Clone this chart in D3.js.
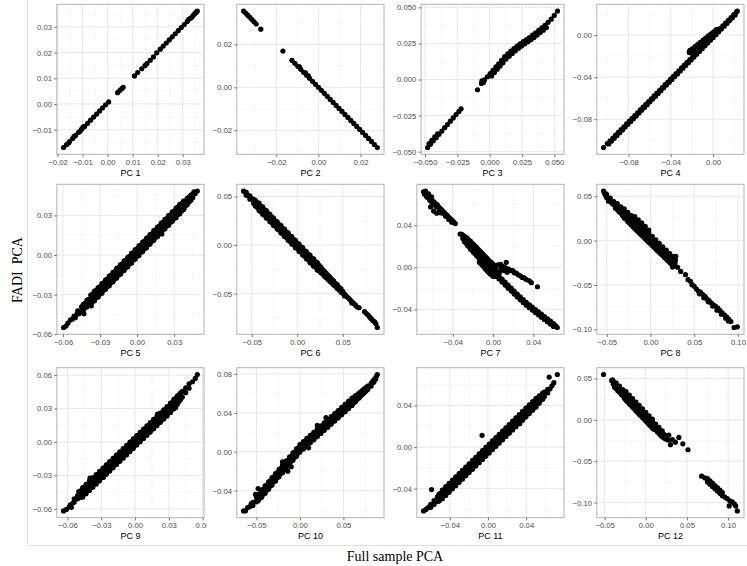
<!DOCTYPE html>
<html>
<head>
<meta charset="utf-8">
<script src="https://cdn.jsdelivr.net/npm/d3@7"></script>
<style>
  body { margin: 0; background: #fff; }
  svg { display: block; }
</style>
</head>
<body>
<div id="chart"></div>
<script>
// all scores below are stored x1000 (0.0123 -> 12.3), [full sample PCA, FADI PCA]
const pc1 = [[-17.6,-16.9],[-16.4,-15.8],[-15.2,-14.6],[-14.0,-13.4],[-12.8,-12.2],[-11.6,-11.0],[-10.4,-9.8],[-9.2,-8.7],[-8.0,-7.5],[-6.8,-6.3],[-5.6,-5.1],[-4.4,-3.9],[-3.2,-2.7],[-2.0,-1.5],[-0.8,-0.3],[0.4,0.8],
  [-15.6,-15.2],[-13.4,-12.6],[-11.0,-10.6],[-9.8,-9.0],
  [4.0,4.4],[4.8,5.2],[5.6,5.9],[6.2,6.5],
  [10.7,10.9],[12.0,12.2],[13.6,13.7],[14.9,14.9],[15.7,15.7],[17.0,17.0],[18.3,18.3],[19.6,19.9],
  [21.0,21.3],[22.2,22.5],[23.4,23.7],[24.6,24.9],[25.8,26.1],[27.0,27.3],[28.2,28.5],[29.4,29.7],[30.6,30.9],[31.8,32.1],[33.0,33.3],[34.2,34.5],[35.4,35.7],[35.8,36.1],
  [32.4,32.9],[33.6,33.7],[34.8,35.1]];

const pc2 = [[-35.6,35.5],[-34.6,34.6],[-33.6,33.6],[-32.6,32.6],[-31.6,31.6],[-30.6,30.5],[-29.6,29.5],
  [-27.4,27.1],[-16.9,16.9],
  [-12.6,12.6],[-11.2,11.2],[-9.8,9.8],[-8.4,8.4],[-7.0,7.0],[-5.6,5.6],[-4.2,4.2],[-2.8,2.8],[-1.4,1.4],[0,0],[1.4,-1.4],[2.8,-2.8],[4.2,-4.2],[5.6,-5.6],[7.0,-7.0],[8.4,-8.4],[9.8,-9.8],[11.2,-11.2],[12.6,-12.6],[14.0,-14.0],[15.4,-15.4],[16.8,-16.8],[18.2,-18.2],[19.6,-19.6],[21.0,-21.0],[22.4,-22.4],[23.8,-23.8],[25.2,-25.2],[26.6,-26.6],[28.0,-28.0],
  [-9.0,9.6],[-6.2,6.8],[-4.8,5.4]];

const pc3 = [[-48,-47.1],[-45.8,-44.8],[-43.6,-42.5],[-41.4,-40.3],[-39.2,-38.0],[-37,-35.7],[-34.8,-33.4],[-32.6,-31.2],[-30.4,-28.9],[-28.2,-26.6],[-26,-24.3],[-23.8,-22.1],[-22.1,-20.3],
  [-46.9,-44.4],[-44.7,-42.1],[-42.5,-39.8],[-40.3,-37.6],
  [-9.4,-7.1],
  [-6.3,-2.7],[-4,-0.3],[-1.8,1.9],[0.4,4.1],[2.6,6.4],[4.8,8.7],[7,10.9],[9.2,13.2],[11.6,15.8],[14,17.8],[16.4,19.7],[18.8,21.5],[21.2,23.2],[23.6,24.8],[26,26.3],[28.4,27.7],[30.8,29.1],[33.2,30.7],[35.6,32.4],[38,34.1],[40.4,35.8],[42.8,37.6],[45.2,39.6],[47.6,41.8],[50,44.4],[52.5,47.4],
  [1.5,2.5],[3.7,4.8],[5.9,7.1],[8.1,9.3],[10.3,11.6],[12.7,14.2],[15.1,16.2],[17.5,18.1],[19.9,19.9],[22.3,21.6],[24.7,23.2],[27.1,24.7],[29.5,26.1],[31.9,27.5],[34.3,29.1],[36.7,30.8],[39.1,32.5],[41.5,34.2],[43.9,36.0],
  [-5.4,-1.4],[-6.0,-1.0],[-4.8,-2.0]];

const pc4 = [[-103.6,-106.9],
  [-100,-103.2],[-97.4,-100.5],[-94.8,-97.9],[-92.2,-95.2],[-89.6,-92.5],[-87,-89.9],[-84.4,-87.2],[-81.8,-84.5],[-79.2,-81.9],[-76.6,-79.2],[-74,-76.6],[-71.4,-73.9],[-68.8,-71.2],[-66.2,-68.6],[-63.6,-65.9],[-61,-63.2],[-58.4,-60.6],[-55.8,-57.9],[-53.2,-55.2],[-50.6,-52.6],[-48,-49.9],[-45.4,-47.2],[-42.8,-44.6],[-40.2,-41.9],[-37.6,-39.2],[-35,-36.6],[-32.4,-33.9],[-29.8,-31.2],[-27.2,-28.6],[-24.6,-25.9],[-22,-23.3],[-19.4,-20.6],[-16.8,-17.9],[-14.2,-15.3],[-11.6,-12.6],[-9,-9.9],[-6.4,-7.3],[-3.8,-4.6],[-1.2,-1.9],[1.4,0.7],[4,3.4],[6.6,6.1],[9.2,8.7],[11.8,11.4],[14.4,14.1],[17,16.7],[19.6,19.4],[22.2,22.1],[22.9,22.8],
  [-98.7,-103.5],[-96.1,-100.8],[-93.5,-98.2],[-90.9,-95.5],[-88.3,-92.8],[-85.7,-90.2],[-83.1,-87.5],[-80.5,-84.8],[-77.9,-82.2],[-75.3,-79.5],[-72.7,-76.9],[-70.1,-74.2],[-67.5,-71.5],[-64.9,-68.9],[-62.3,-66.2],[-59.7,-63.5],[-57.1,-60.9],[-54.5,-58.2],[-51.9,-55.5],[-49.3,-52.9],[-46.7,-50.2],[-44.1,-47.5],[-41.5,-44.9],[-38.9,-42.2],[-36.3,-39.5],[-33.7,-36.9],[-31.1,-34.2],[-28.5,-31.5],[-25.9,-28.9],[-23.3,-26.2],[-20.7,-23.6],[-18.1,-20.9],[-15.5,-18.2],[-12.9,-15.6],[-10.3,-12.9],[-7.7,-10.2],[-5.1,-7.6],[-2.5,-4.9],[0.1,-2.2],[2.7,0.4],[5.3,3.1],[7.9,5.8],[10.5,8.4],[13.1,11.1],[15.7,13.8],[18.3,16.4],[20.9,19.1],
  [-22.5,-16.5],[-22,-14.5],[-20,-14.6],[-19.5,-12.8],[-17.5,-12.6],[-17,-10.8],[-15,-10.6],[-14.5,-8.8],[-12.5,-8.6],[-12,-6.8],[-10,-6.6],[-9.5,-4.8],[-7.5,-4.6],[-7,-2.8],[-5,-2.6],[-4.5,-0.8],[-2.5,-0.6],[-2,1.2],[0,1.4],[0.5,3.2],[2.5,3.4],[3,5.2],[5,5.5],
  [-20.5,-17],[-18,-15],[-15.5,-12.8],[-13,-10.8],[-10.5,-8.8],[-8,-6.8],[-5.5,-4.8]];

const pc5 = [[-59.5,-54.9],[-57.5,-53.8],[-56,-51.6],[-54,-49.3],[-52.5,-48.6],[-51,-46.2],[-50,-47.5],[-48.5,-44.6],[-48,-42.3],[-47,-44.5],
  [-45,-42.8],[-45,-39.2],[-42,-40.0],[-42,-36.4],[-39,-37.1],[-39,-33.5],
  [-36,-35.2],[-36,-32.4],[-36,-29.6],[-33,-32.4],[-33,-29.6],[-33,-26.8],[-30,-29.5],[-30,-26.7],[-30,-23.9],[-27,-26.7],[-27,-23.9],[-27,-21.1],
  [-24,-23.8],[-24,-21.0],[-24,-18.2],[-21,-20.9],[-21,-18.1],[-21,-15.3],[-18,-18.1],[-18,-15.3],[-18,-12.5],[-15,-15.2],[-15,-12.4],[-15,-9.6],
  [-12,-12.3],[-12,-9.5],[-12,-6.7],[-9,-9.5],[-9,-6.7],[-9,-3.9],[-6,-6.6],[-6,-3.8],[-6,-1.0],[-3,-3.8],[-3,-1.0],[-3,1.8],
  [0,-0.9],[0,1.9],[0,4.7],[3,2.0],[3,4.8],[3,7.6],[6,4.8],[6,7.6],[6,10.4],[9,7.7],[9,10.5],[9,13.3],
  [12,10.5],[12,13.3],[12,16.1],[15,13.4],[15,16.2],[15,19.0],[18,16.3],[18,19.1],[18,21.9],[21,19.1],[21,21.9],[21,24.7],
  [24,22.0],[24,24.8],[24,27.6],[27,24.9],[27,27.7],[27,30.5],[30,27.7],[30,30.5],[30,33.3],[33,30.6],[33,33.4],[33,36.2],[36,33.4],[36,36.2],[36,39.0],
  [39,37.3],[39,40.9],[42,40.2],[42,43.8],[45,43.4],[45,46.2],[47,46.4],[48.7,48.4],[46,47.8],
  [-43,-44.5],[-37,-38.5],[20,16],[38,35],
  [-43.5,-41.8],[-43.5,-37.4],[-40.5,-39.2],[-40.5,-34.2],[-37.5,-37.5],[-37.5,-30.3],[-34.5,-34.6],[-34.5,-27.4],[-31.5,-31.8],[-31.5,-24.6],
  [-28.5,-28.9],[-28.5,-21.7],[-25.5,-26.0],[-25.5,-18.8],[-22.5,-23.2],[-22.5,-16.0],[-19.5,-20.3],[-19.5,-13.1],[-16.5,-17.4],[-16.5,-10.2],
  [-13.5,-14.6],[-13.5,-7.4],[-10.5,-11.7],[-10.5,-4.5],[-7.5,-8.9],[-7.5,-1.7],[-4.5,-6.0],[-4.5,1.2],[-1.5,-3.1],[-1.5,4.1],
  [1.5,-0.3],[1.5,6.9],[4.5,2.6],[4.5,9.8],[7.5,5.5],[7.5,12.7],[10.5,8.3],[10.5,15.5],[13.5,11.2],[13.5,18.4],[16.5,14.0],[16.5,21.2],
  [19.5,16.9],[19.5,24.1],[22.5,19.8],[22.5,27.0],[25.5,22.6],[25.5,29.8],[28.5,25.5],[28.5,32.7],[31.5,28.3],[31.5,35.5],[34.5,31.2],[34.5,38.4],
  [37.5,34.5],[37.5,40.9],[40.5,38.0],[40.5,43.0],[43.5,41.4],[43.5,45.4]];

const pc6 = [[-59,55.5],[-57.5,54.5],[-56,51.2],[-56,54.2],[-52,47.2],[-52,50.6],[-48,43.0],[-48,47.0],
  [-44,38.8],[-44,41.2],[-44,43.6],[-40,34.6],[-40,37.4],[-40,40.2],[-36,30.8],[-36,33.6],[-36,36.4],[-32,27.0],[-32,29.8],[-32,32.6],
  [-28,23.1],[-28,25.9],[-28,28.7],[-24,19.3],[-24,22.1],[-24,24.9],[-20,15.5],[-20,18.3],[-20,21.1],[-16,11.7],[-16,14.5],[-16,17.3],
  [-12,7.9],[-12,10.7],[-12,13.5],[-8,4.0],[-8,6.8],[-8,9.6],[-4,0.2],[-4,3.0],[-4,5.8],[0,-3.6],[0,-0.8],[0,2.0],
  [4,-7.4],[4,-4.6],[4,-1.8],[8,-11.2],[8,-8.4],[8,-5.6],[12,-15.1],[12,-12.3],[12,-9.5],[16,-18.9],[16,-16.1],[16,-13.3],
  [20,-22.7],[20,-19.9],[20,-17.1],[24,-26.5],[24,-23.7],[24,-20.9],
  [28,-29.7],[28,-25.3],[32,-33.6],[32,-29.2],[36,-37.4],[36,-33.0],[40,-41.2],[40,-36.8],[44,-44.8],[44,-40.8],[48,-48.4],[48,-44.8],
  [52,-50.5],[52,-52.3],[56,-54.3],[60,-58.1],[60,-59.5],[64,-61.9],[66,-63.8],[68,-64.5],
  [74,-68.5],[76,-70.5],[78,-72],[79.6,-74],[81,-75.5],[83,-77.5],[85.1,-79.1],[86.5,-81],[88,-84.8],
  [-54,50.8],[-50,47.9],[-46,40.1],[-46,46.1],[-42,35.5],[-42,43.1],[-38,31.7],[-38,39.3],[-34,27.9],[-34,35.5],[-30,24.1],[-30,31.7],
  [-26,20.2],[-26,27.8],[-22,16.4],[-22,24.0],[-18,12.6],[-18,20.2],[-14,8.8],[-14,16.4],[-10,5.0],[-10,12.6],[-6,1.1],[-6,8.7],
  [-2,-2.7],[-2,4.9],[2,-6.5],[2,1.1],[6,-10.3],[6,-2.7],[10,-14.2],[10,-6.6],[14,-18.0],[14,-10.4],[18,-21.8],[18,-14.2],
  [22,-25.6],[22,-18.0],[26,-28.6],[26,-22.6],[30,-32.0],[30,-27.0],[34,-35.5],[34,-31.1],[38,-39.0],[38,-35.2],[42,-42.5],[42,-39.3],
  [46,-46.0],[46,-43.4],[50,-49.5],[50,-47.5],[54,-52.4],[58,-56.2],[62,-60.0]];

const pc7 = [[-69,71.9],[-67.5,71.2],[-66,69.0],[-66,67.4],[-64.5,68.3],[-63,66.1],[-63,64.3],[-61.5,65.4],[-60,63.3],[-60,61.5],[-58.5,62.0],[-57,60.4],[-57,58.6],[-55.5,59.6],[-54,57.5],[-52.5,55.8],[-51,54.6],[-49.5,53.0],[-48,51.7],[-46.5,50.1],[-45,48.9],[-43.5,47.2],[-42,46.0],[-40.5,44.6],[-39,43.1],[-37.5,41.7],
  [-59,53.5],[-56,51.5],[-62,57.5],[-52,52],
  [-68,69.5],[-65,66.5],[-62,63.2],[-59,60.5],[-56,57.6],[-53,54.5],[-50,51.5],[-47,48.6],[-44,45.6],[-41,43.0],[-67,72.5],[-64,70.0],[-61,67.0],
  [-32.7,31.7],[-31,31.5],[-30,27.5],[-30,30.5],[-27,23.5],[-27,26.0],[-27,28.5],[-24,19.8],[-24,22.9],[-24,25.8],[-21,16.3],[-21,19.9],[-21,23.0],
  [-18,12.9],[-18,16.9],[-18,20.5],[-15,9.8],[-15,13.9],[-15,17.5],[-12,3.5],[-12,6.5],[-12,10.8],[-12,14.5],[-9,0.5],[-9,3.5],[-9,7.8],[-9,11.5],
  [-6,-3.0],[-6,0.5],[-6,4.7],[-6,8.5],[-3,-6.0],[-3,-2.5],[-3,1.7],[-3,5.5],[0,-8.5],[0,-5.5],[0,-1.3],[0,3.0],[3,-8.5],[3,-4.3],[3,0],
  [-28.5,24.5],[-28.5,29.5],[-25.5,21.0],[-25.5,24.4],[-25.5,27.5],[-22.5,17.5],[-22.5,21.4],[-22.5,25.0],[-19.5,14.5],[-19.5,18.4],[-19.5,22.0],
  [-16.5,11.5],[-16.5,15.4],[-16.5,19.2],[-13.5,5.0],[-13.5,8.5],[-13.5,12.3],[-13.5,16.0],[-10.5,2.0],[-10.5,5.5],[-10.5,9.3],[-10.5,13.0],
  [-7.5,-1.5],[-7.5,2.5],[-7.5,6.3],[-7.5,10.0],[-4.5,-4.5],[-4.5,-0.5],[-4.5,3.2],[-4.5,7.0],[-1.5,-7.0],[-1.5,-3.5],[-1.5,0.2],[-1.5,4.5],
  [1.5,-8.5],[1.5,-5.0],[1.5,-1.5],[1.5,2.0],
  [6,-11.0],[6,-8.2],[9,-13.9],[9,-11.1],[12,-16.8],[12,-14.0],[15,-19.7],[15,-16.9],[18,-22.5],[18,-19.7],[21,-25.3],[21,-22.5],[24,-28.1],[24,-25.3],
  [27,-30.8],[27,-28.0],[30,-33.4],[30,-30.6],[33,-35.9],[33,-33.1],[36,-38.3],[36,-35.5],[39,-40.6],[39,-37.8],[42,-42.9],[42,-40.1],[45,-45.1],[45,-42.3],
  [48,-47.3],[48,-44.5],[51,-49.5],[51,-46.7],[54,-51.7],[54,-48.9],[57,-53.9],[57,-51.1],[60,-56.1],[60,-53.3],[63.8,-57.1],[62,-55.5],
  [7.5,-11.05],[10.5,-13.95],[13.5,-16.85],[16.5,-19.7],[19.5,-22.5],[22.5,-25.3],[25.5,-28.05],[28.5,-30.7],[31.5,-33.25],[34.5,-35.7],
  [37.5,-38.05],[40.5,-40.35],[43.5,-42.6],[46.5,-44.8],[49.5,-47.0],[52.5,-49.2],[55.5,-51.4],[58.5,-53.6],[61.5,-55.6],
  [5,2.5],[7.5,3],[9,1],[11,0.5],[13.1,4.8],[13,-1],[15.5,-1.5],[17,-3],[19.6,-3.1],[21,-5],[23,-5.5],[25,-7],[27,-8],[29,-9.5],[31,-10],[33,-11.5],[36,-12.7],[38,-14.5],[44.1,-18.4],[8,-1.5],[11,-3],[14,-4.5],[6.5,-4.5]];

const pc8 = [[-53.7,55.8],[-52.5,53.2],[-51,52.8],[-51,50.3],[-50,48.2],[-50,51.8],[-46,44.3],[-46,47.9],[-42,40.4],[-42,43.9],
  [-38,35.0],[-38,38.4],[-38,41.8],[-34,31.0],[-34,34.5],[-34,38.0],
  [-30,25.4],[-30,28.9],[-30,32.4],[-30,35.9],[-26,21.5],[-26,25.0],[-26,28.5],[-26,32.0],[-22,17.6],[-22,21.1],[-22,24.6],[-22,28.1],
  [-18,13.7],[-18,17.2],[-18,20.7],[-18,24.2],[-18,27.2],[-14,9.9],[-14,13.4],[-14,16.9],[-14,20.4],[-14,23.4],
  [-10,6.0],[-10,9.5],[-10,13.0],[-10,16.5],[-10,20.0],[-6,2.1],[-6,5.6],[-6,9.1],[-6,12.6],[-6,16.0],[-2,-1.8],[-2,1.7],[-2,5.2],[-2,8.7],[-2,12.0],
  [2,-5.6],[2,-2.1],[2,1.4],[2,4.9],[6,-9.5],[6,-6.0],[6,-2.5],[6,1.0],[10,-13.0],[10,-9.6],[10,-6.2],[10,-3.0],
  [14,-16.9],[14,-13.5],[14,-10.1],[14,-6.9],[18,-20.8],[18,-17.4],[18,-14.0],[18,-10.8],[22,-24.6],[22,-21.2],[22,-17.8],[22,-14.6],
  [26,-28],[26,-24.5],[26,-21],[26,-18],[28.9,-17.7],[28.5,-22],[28,-26],[25.2,-29.7],
  [27.1,-27],[31,-30],[34.5,-34.7],[40,-38.4],[43,-44],[45.6,-45.9],[47.5,-49.7],[50,-51.5],[52.5,-54.5],[54.9,-57.2],[57,-58],[59.5,-60.5],[62.3,-62.9],[64.5,-65.5],[67,-67.5],[69.7,-70.4],[72,-72.5],[74.5,-74],[77.1,-76.1],[79.5,-79],[82,-81.5],[84.5,-83.6],[87,-86],[89.5,-88.5],[91.9,-91.2],[95.6,-97.9],[99.3,-97.2],
  [56,-60],[61,-64.5],[66,-69],[71,-73.8],[76,-78.5],[81,-83],[86,-87.5],[89,-90.5],
  [-48,44.5],[-44,42.0],[-40,36.5],[-40,40.2],[-36,32.6],[-36,36.2],[-32,28.2],[-32,31.9],[-28,24.3],[-28,27.9],[-24,19.8],[-24,23.6],[-20,15.6],[-20,19.4],
  [-16,11.8],[-16,15.6],[-12,8.0],[-12,11.6],[-8,4.1],[-8,7.6],[-4,0.2],[-4,3.8],[0,-3.6],[0,0.1],[4,-7.5],[4,-4.0],[8,-11.5],[8,-8.0],
  [12,-15.2],[12,-11.6],[16,-19.0],[16,-15.4],[20,-22.8],[20,-19.2],[24,-26.4],[24,-22.6]];

const pc9 = [[-63.5,-61.8],[-61,-60.5],[-58.5,-58.3],[-56.5,-58.6],[-55,-54.5],[-57.5,-56.5],
  [-54,-53.9],[-54,-50.9],[-51,-51.0],[-51,-48.0],
  [-48,-49.6],[-48,-46.6],[-48,-43.6],[-45,-46.7],[-45,-43.7],[-45,-40.7],[-42,-43.7],[-42,-40.7],[-42,-37.7],[-39,-40.8],[-39,-37.8],[-39,-34.8],
  [-36,-37.9],[-36,-34.9],[-36,-31.9],[-33,-35.0],[-33,-32.0],[-33,-29.0],[-30,-32.1],[-30,-29.1],[-30,-26.1],[-27,-29.2],[-27,-26.2],[-27,-23.2],
  [-24,-26.3],[-24,-23.3],[-24,-20.3],[-21,-23.4],[-21,-20.4],[-21,-17.4],[-18,-20.5],[-18,-17.5],[-18,-14.5],[-15,-17.6],[-15,-14.6],[-15,-11.6],
  [-12,-14.6],[-12,-11.6],[-12,-8.6],[-9,-11.7],[-9,-8.7],[-9,-5.7],[-6,-8.8],[-6,-5.8],[-6,-2.8],[-3,-5.9],[-3,-2.9],[-3,0.1],
  [0,-3.0],[0,0],[0,3.0],[3,-0.1],[3,2.9],[3,5.9],[6,2.8],[6,5.8],[6,8.8],[9,5.7],[9,8.7],[9,11.7],
  [12,8.6],[12,11.6],[12,14.6],[15,11.6],[15,14.6],[15,17.6],[18,14.5],[18,17.5],[18,20.5],[21,17.4],[21,20.4],[21,23.4],
  [24,20.3],[24,23.3],[24,26.3],[27,23.2],[27,26.2],[27,29.2],[30,26.1],[30,29.1],[30,32.1],[33,29.4],[33,32.4],[33,35.4],
  [36,32.8],[36,35.8],[36,38.8],[39,36.3],[39,39.3],[39,42.3],[42,40.3],[42,45.3],[45,44.2],[45,48.6],[48,48.2],[48,52.2],[51,54.0],[53.5,57.0],[55.3,60.5],
  [-50,-44.5],[-40,-32.5],[-28,-31.5],[20,25],[36,31],
  [-46.5,-49.3],[-46.5,-40.9],[-43.5,-46.4],[-43.5,-38.0],[-40.5,-43.5],[-40.5,-35.1],[-37.5,-40.6],[-37.5,-32.2],[-34.5,-37.7],[-34.5,-29.3],
  [-31.5,-34.8],[-31.5,-26.4],[-28.5,-31.8],[-28.5,-23.4],[-25.5,-28.9],[-25.5,-20.5],[-22.5,-26.0],[-22.5,-17.6],[-19.5,-23.1],[-19.5,-14.7],
  [-16.5,-20.2],[-16.5,-11.8],[-13.5,-17.3],[-13.5,-8.9],[-10.5,-14.4],[-10.5,-6.0],[-7.5,-11.5],[-7.5,-3.1],[-4.5,-8.6],[-4.5,-0.2],
  [-1.5,-5.7],[-1.5,2.7],[1.5,-2.7],[1.5,5.7],[4.5,0.2],[4.5,8.6],[7.5,3.1],[7.5,11.5],[10.5,6.0],[10.5,14.4],[13.5,8.9],[13.5,17.3],
  [16.5,11.8],[16.5,20.2],[19.5,14.7],[19.5,23.1],[22.5,17.6],[22.5,26.0],[25.5,20.5],[25.5,28.9],[28.5,23.4],[28.5,31.8],[31.5,26.5],[31.5,34.9],
  [34.5,29.9],[34.5,38.3],[37.5,33.9],[37.5,41.1],[40.5,38.0],[40.5,44.0]];

const pc10 = [[-64.8,-60.9],[-62.5,-60.8],[-60,-57.5],[-57.5,-56.5],[-56,-53.5],
  [-54,-55.4],[-54,-52.2],[-50,-51.6],[-50,-47.6],[-51,-44],
  [-46,-47.8],[-46,-45.4],[-46,-43.0],[-42,-43.7],[-42,-41.1],[-42,-38.5],[-38,-39.5],[-38,-36.9],[-38,-34.3],[-34,-35.2],[-34,-32.6],[-34,-30.0],
  [-30,-31.0],[-30,-28.4],[-30,-25.8],[-26,-26.8],[-26,-24.2],[-26,-21.6],[-22,-22.5],[-22,-19.9],[-22,-17.3],[-18,-18.3],[-18,-15.7],[-18,-13.1],
  [-14,-14.0],[-14,-11.4],[-14,-8.8],[-10,-9.8],[-10,-7.2],[-10,-4.6],[-6,-5.6],[-6,-3.0],[-6,-0.4],[-2,-1.3],[-2,1.3],[-2,3.9],
  [2,2.4],[2,5.0],[2,7.6],[6,5.6],[6,8.2],[6,10.8],[10,8.8],[10,11.4],[10,14.0],[14,12.0],[14,14.6],[14,17.2],
  [18,15.2],[18,17.8],[18,20.4],[22,18.4],[22,21.0],[22,23.6],[26,21.6],[26,24.2],[26,26.8],[30,24.8],[30,27.4],[30,30.0],
  [34,28.0],[34,30.6],[34,33.2],[38,31.2],[38,33.8],[38,36.4],[42,34.4],[42,37.0],[42,39.6],[46,37.6],[46,40.2],[46,42.8],
  [50,40.8],[50,43.4],[50,46.0],[54,44.0],[54,46.6],[54,49.2],[58,47.2],[58,49.8],[58,52.4],[62,50.4],[62,53.0],[62,55.6],
  [66,54.0],[66,58.4],[70,57.2],[70,61.6],[74,60.6],[74,64.6],[78,64.0],[78,67.6],[82,67.5],[82,70.5],[85,71.4],[87,74.5],[84,73],[86,75],[88,77.5],[89,79.4],
  [-14,-20],[-10,-15.5],[-20,-10.5],[-48,-38],[10,4],[20,27],[30,35],
  [-48,-50.5],[-48,-44.5],[-44,-47.0],[-44,-39.4],[-40,-42.8],[-40,-35.2],[-36,-38.6],[-36,-31.0],[-32,-34.3],[-32,-26.7],[-28,-30.1],[-28,-22.5],
  [-24,-25.8],[-24,-18.2],[-20,-21.6],[-20,-14.0],[-16,-17.4],[-16,-9.8],[-12,-13.1],[-12,-5.5],[-8,-8.9],[-8,-1.3],[-4,-4.6],[-4,3.0],
  [0,-0.4],[0,7.2],[4,2.8],[4,10.4],[8,6.0],[8,13.6],[12,9.2],[12,16.8],[16,12.4],[16,20.0],[20,15.6],[20,23.2],[24,18.8],[24,26.4],
  [28,22.0],[28,29.6],[32,25.2],[32,32.8],[36,28.4],[36,36.0],[40,31.6],[40,39.2],[44,34.8],[44,42.4],[48,38.0],[48,45.6],[52,41.2],[52,48.8],
  [56,44.4],[56,52.0],[60,47.6],[60,55.2],[64,51.6],[64,57.6],[68,55.3],[68,60.3],[72,59.0],[72,63.0],[76,62.5],[76,65.9],[80,67.4]];

const pc11 = [[-67.5,-61.4],[-65,-60],[-63,-58.5],[-61,-57],[-59.1,-40.9],
  [-60,-58.0],[-60,-55.0],[-56.5,-55.2],[-56.5,-51.6],[-53,-52.4],[-53,-48.0],
  [-49.5,-49.9],[-49.5,-47.1],[-49.5,-44.3],[-46,-46.7],[-46,-43.9],[-46,-41.1],[-42.5,-43.6],[-42.5,-40.8],[-42.5,-38.0],[-39,-40.4],[-39,-37.6],[-39,-34.8],
  [-35.5,-37.3],[-35.5,-34.5],[-35.5,-31.7],[-32,-34.1],[-32,-31.3],[-32,-28.5],[-28.5,-31.0],[-28.5,-28.2],[-28.5,-25.4],[-25,-27.8],[-25,-25.0],[-25,-22.2],
  [-21.5,-24.7],[-21.5,-21.9],[-21.5,-19.1],[-18,-21.5],[-18,-18.7],[-18,-15.9],[-14.5,-18.4],[-14.5,-15.6],[-14.5,-12.8],[-11,-15.2],[-11,-12.4],[-11,-9.6],
  [-7.5,-12.1],[-7.5,-9.3],[-7.5,-6.5],[-4,-8.9],[-4,-6.1],[-4,-3.3],[-0.5,-5.8],[-0.5,-3.0],[-0.5,-0.2],[3,-2.6],[3,0.2],[3,3.0],
  [6.5,0.6],[6.5,3.4],[6.5,6.2],[10,3.7],[10,6.5],[10,9.3],[13.5,6.9],[13.5,9.7],[13.5,12.5],[17,10.0],[17,12.8],[17,15.6],
  [20.5,13.2],[20.5,16.0],[20.5,18.8],[24,16.3],[24,19.1],[24,21.9],[27.5,19.5],[27.5,22.3],[27.5,25.1],[31,22.6],[31,25.4],[31,28.2],
  [34.5,25.8],[34.5,28.6],[34.5,31.4],[38,28.9],[38,31.7],[38,34.5],[41.5,32.1],[41.5,34.9],[41.5,37.7],[45,35.2],[45,38.0],[45,40.8],
  [48.5,38.4],[48.5,41.2],[48.5,44.0],[52,41.5],[52,44.3],[52,47.1],[55.5,45.3],[55.5,49.7],[59,48.4],[59,52.8],[62.5,52.0],[62.5,55.6],[65,56.0],
  [64.1,67.3],[72.6,69.8],[-6.2,11.3],[33.3,22.5],[67,59],[69,62],
  [-51.25,-52.0],[-51.25,-45.2],[-47.75,-49.7],[-47.75,-41.3],[-44.25,-46.5],[-44.25,-38.1],[-40.75,-43.4],[-40.75,-35.0],[-37.25,-40.2],[-37.25,-31.8],
  [-33.75,-37.1],[-33.75,-28.7],[-30.25,-33.9],[-30.25,-25.5],[-26.75,-30.8],[-26.75,-22.4],[-23.25,-27.6],[-23.25,-19.2],[-19.75,-24.5],[-19.75,-16.1],
  [-16.25,-21.3],[-16.25,-12.9],[-12.75,-18.2],[-12.75,-9.8],[-9.25,-15.0],[-9.25,-6.6],[-5.75,-11.9],[-5.75,-3.5],[-2.25,-8.7],[-2.25,-0.3],
  [1.25,-5.6],[1.25,2.8],[4.75,-2.4],[4.75,6.0],[8.25,0.7],[8.25,9.1],[11.75,3.9],[11.75,12.3],[15.25,7.0],[15.25,15.4],[18.75,10.2],[18.75,18.6],
  [22.25,13.3],[22.25,21.7],[25.75,16.5],[25.75,24.9],[29.25,19.6],[29.25,28.0],[32.75,22.8],[32.75,31.2],[36.25,25.9],[36.25,34.3],
  [39.75,29.1],[39.75,37.5],[43.25,32.2],[43.25,40.6],[46.75,35.4],[46.75,43.8],[50.25,38.5],[50.25,46.9],[53.75,42.5],[53.75,49.3],[57.25,46.0],[57.25,52.0]];

const pc12 = [[-51.3,54.8],[-41.5,47.5],[-40.5,48.5],
  [-39.5,43.2],[-39.5,46.8],[-36,37.8],[-36,41.3],[-36,44.8],[-32,33.7],[-32,37.2],[-32,40.7],[-28,29.5],[-28,33.0],[-28,36.5],
  [-24,23.6],[-24,27.1],[-24,30.6],[-24,34.1],[-20,19.4],[-20,22.9],[-20,26.4],[-20,29.9],[-16,15.2],[-16,18.7],[-16,22.2],[-16,25.7],
  [-12,11.1],[-12,14.6],[-12,18.1],[-12,21.6],[-8,6.9],[-8,10.4],[-8,13.9],[-8,17.4],[-4,2.8],[-4,6.3],[-4,9.8],[-4,13.3],
  [0,-1.4],[0,2.1],[0,5.6],[0,9.1],[4,-5.6],[4,-2.1],[4,1.4],[4,4.9],[8,-9.7],[8,-6.2],[8,-2.7],[8,0.8],
  [12,-12.1],[12,-8.6],[12,-5.1],[16,-16.2],[16,-12.7],[16,-9.2],[20,-20.4],[20,-16.9],[20,-13.4],[24,-23.1],[24,-19.1],[27,-24.2],
  [28,-18.5],[32.4,-24],[36,-27],[40.2,-21.2],[45,-29],[51.3,-36.1],[30,-30],
  [67.8,-68.1],[72,-70.2],[75,-75.0],[75,-71.0],[78,-77.8],[78,-73.8],[81,-80.5],[81,-76.5],[84,-83.3],[84,-79.3],[87,-86.0],[87,-82.0],
  [90,-88.8],[90,-84.8],[93,-91.6],[93,-87.6],[96,-93.3],[99,-95.1],[102,-97.8],
  [101.4,-104],[105,-99],[107.5,-101.5],[109.3,-104],[111.2,-110],
  [-38,39.5],[-34,35.3],[-34,39.8],[-30,31.2],[-30,35.6],[-26,26.0],[-26,30.4],[-22,21.8],[-22,26.2],[-18,17.6],[-18,22.0],[-14,13.4],[-14,17.8],
  [-10,9.3],[-10,13.7],[-6,5.1],[-6,9.5],[-2,1.0],[-2,5.4],[2,-3.2],[2,1.2],[6,-7.3],[6,-2.9],[10,-11.3],[10,-6.9],[14,-14.4],[14,-10.4],
  [18,-18.5],[18,-14.5],[22,-21.6],[22,-17.6],[76.5,-75.2],[79.5,-77.9],[82.5,-80.6],[85.5,-83.4],[88.5,-86.1],[91.5,-88.9]];

// facet titles and axis breaks (x1000), digits of the tick labels
const titles = ["PC 1","PC 2","PC 3","PC 4","PC 5","PC 6","PC 7","PC 8","PC 9","PC 10","PC 11","PC 12"];
const series = [pc1, pc2, pc3, pc4, pc5, pc6, pc7, pc8, pc9, pc10, pc11, pc12];
const xTicks = [[-20,-10,0,10,20,30],[-20,0,20],[-50,-25,0,25,50],[-80,-40,0],
  [-60,-30,0,30],[-50,0,50],[-40,0,40],[-50,0,50,100],
  [-60,-30,0,30,60],[-50,0,50],[-40,0,40],[-50,0,50,100]];
const yTicks = [[-10,0,10,20,30],[-20,0,20],[-50,-25,0,25,50],[-80,-40,0],
  [-60,-30,0,30],[-50,0,50],[-40,0,40],[-100,-50,0,50],
  [-60,-30,0,30,60],[-40,0,40,80],[-40,0,40],[-100,-50,0,50]];
const digits = [2,2,3,2,2,2,2,2,2,2,2,2];

const W = 747, H = 566;
const cellX = [27, 207, 387, 567], cellW = 180;
const cellY = [0, 181, 364], cellH = 181;
const rowTop = [4.3, 184.3, 367.7], panelH = 150;

const svg = d3.select("#chart").append("svg")
    .attr("width", W)
    .attr("height", H);

const defs = svg.append("defs");

// outer frame of the arranged figure
svg.append("line")
    .attr("x1", 27.5).attr("x2", 27.5).attr("y1", 0).attr("y2", 545.5)
    .attr("stroke", "#dedede");
svg.append("line")
    .attr("x1", 27.5).attr("x2", W).attr("y1", 545.5).attr("y2", 545.5)
    .attr("stroke", "#dedede");

const fmt = (v, d) => (v / 1000).toFixed(d).replace("-", "\u2212");

const tickFont = "7.7px 'Liberation Sans', Arial, Helvetica, sans-serif";
const meas = svg.append("text").style("font", tickFont).attr("x", -100).attr("y", -100);
function textW(s) {
    meas.text(s);
    return meas.node().getComputedTextLength();
}

function minors(ticks, dom) {
    const step = ticks[1] - ticks[0];
    const out = ticks.map(v => v - step / 2);
    out.push(ticks[ticks.length - 1] + step / 2);
    return out.filter(v => v > dom[0] && v < dom[1]);
}

series.forEach((pts, i) => {
    const row = Math.floor(i / 4), col = i % 4;
    const labW = d3.max(yTicks[i], v => textW(fmt(v, digits[i])));
    const left = cellX[col] + 5.5 + labW + 2.2 + 2.7;
    const right = cellX[col] + cellW - 3;
    const top = rowTop[row], bottom = top + panelH;

    const xe = d3.extent(pts, d => d[0]);
    const ye = d3.extent(pts, d => d[1]);
    const xPad = (xe[1] - xe[0]) * 0.05, yPad = (ye[1] - ye[0]) * 0.05;

    const x = d3.scaleLinear().domain([xe[0] - xPad, xe[1] + xPad]).range([left, right]);
    const y = d3.scaleLinear().domain([ye[0] - yPad, ye[1] + yPad]).range([bottom, top]);

    defs.append("clipPath").attr("id", "cell" + i)
        .append("rect")
        .attr("x", cellX[col]).attr("y", cellY[row])
        .attr("width", cellW).attr("height", cellH);

    const g = svg.append("g").attr("clip-path", `url(#cell${i})`);

    g.append("rect")
        .attr("x", left).attr("y", top)
        .attr("width", right - left).attr("height", panelH)
        .attr("fill", "#fff");

    // minor grid
    g.selectAll(".vmin").data(minors(xTicks[i], x.domain())).join("line")
        .attr("x1", d => x(d)).attr("x2", d => x(d))
        .attr("y1", top).attr("y2", bottom)
        .attr("stroke", "#f3f3f3").attr("stroke-width", 0.6);
    g.selectAll(".hmin").data(minors(yTicks[i], y.domain())).join("line")
        .attr("x1", left).attr("x2", right)
        .attr("y1", d => y(d)).attr("y2", d => y(d))
        .attr("stroke", "#f3f3f3").attr("stroke-width", 0.6);

    // major grid
    g.append("g").selectAll("line").data(xTicks[i]).join("line")
        .attr("x1", d => x(d)).attr("x2", d => x(d))
        .attr("y1", top).attr("y2", bottom)
        .attr("stroke", "#e8e8e8").attr("stroke-width", 1);
    g.append("g").selectAll("line").data(yTicks[i]).join("line")
        .attr("x1", left).attr("x2", right)
        .attr("y1", d => y(d)).attr("y2", d => y(d))
        .attr("stroke", "#e8e8e8").attr("stroke-width", 1);

    // points
    g.append("g").selectAll("circle").data(pts).join("circle")
        .attr("cx", d => x(d[0]))
        .attr("cy", d => y(d[1]))
        .attr("r", 2.6)
        .attr("fill", "#000");

    g.append("rect")
        .attr("x", left).attr("y", top)
        .attr("width", right - left).attr("height", panelH)
        .attr("fill", "none")
        .attr("stroke", "#b3b3b3")
        .attr("stroke-width", 1);

    const xAxis = d3.axisBottom(x)
        .tickValues(xTicks[i])
        .tickSize(2.7)
        .tickPadding(2.6)
        .tickFormat(v => fmt(v, digits[i]));
    const yAxis = d3.axisLeft(y)
        .tickValues(yTicks[i])
        .tickSize(2.7)
        .tickPadding(2.2)
        .tickFormat(v => fmt(v, digits[i]));

    [g.append("g").attr("transform", `translate(0,${bottom})`).call(xAxis),
     g.append("g").attr("transform", `translate(${left},0)`).call(yAxis)]
        .forEach(a => {
            a.select(".domain").remove();
            a.selectAll(".tick line").attr("stroke", "#555").attr("stroke-width", 0.8);
            a.selectAll(".tick text").style("font", tickFont).attr("fill", "#4d4d4d");
        });

    g.append("text")
        .attr("x", (left + right) / 2)
        .attr("y", bottom + 21.6)
        .attr("text-anchor", "middle")
        .style("font", "9px 'Liberation Sans', Arial, Helvetica, sans-serif")
        .attr("fill", "#000")
        .text(titles[i]);
});

meas.remove();

svg.append("text")
    .attr("transform", "translate(21.5,270) rotate(-90)")
    .attr("text-anchor", "middle")
    .style("font", "14px 'Liberation Serif', 'Times New Roman', serif")
    .style("white-space", "pre")
    .attr("fill", "#000")
    .text("FADI  PCA");

svg.append("text")
    .attr("x", 395)
    .attr("y", 561)
    .attr("text-anchor", "middle")
    .style("font", "14px 'Liberation Serif', 'Times New Roman', serif")
    .attr("fill", "#000")
    .text("Full sample PCA");
</script>
</body>
</html>
